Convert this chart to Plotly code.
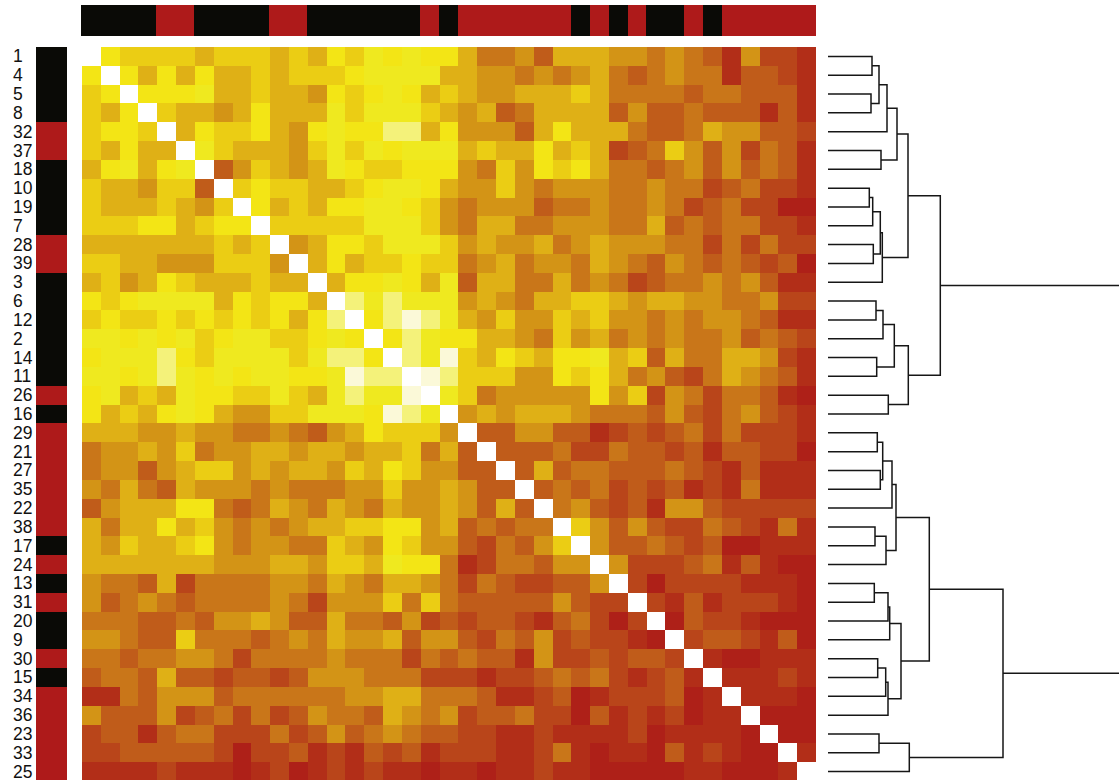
import plotly.graph_objects as go

row_ids = [1,4,5,8,32,37,18,10,19,7,28,39,3,6,12,2,14,11,26,16,
           29,21,27,35,22,38,17,24,13,31,20,9,30,15,34,36,23,33,25]

# Sample class, as shown by the side bars: 0 = black, 1 = red
sample_class = [1 if i > 20 else 0 for i in row_ids]

# Shade level of each cell above the diagonal (symmetric matrix), 0 = darkest red ... 11 = palest yellow
upper = [
 [8,7,7,7,7,6,7,7,7,6,7,6,8,7,9,8,9,8,8,6,4,4,5,3,6,6,6,5,5,4,5,4,3,1,5,2,2,1],
 [8,6,8,6,8,6,6,7,6,7,7,7,8,9,9,9,9,6,6,5,5,4,5,4,5,6,4,3,4,5,4,4,1,3,3,2,1],
 [8,8,8,9,6,6,7,6,6,5,8,7,8,9,8,6,7,6,5,5,6,6,6,7,6,4,4,4,4,3,4,4,3,3,3,1],
 [7,6,6,5,6,8,6,6,6,9,7,9,9,9,7,6,5,6,3,4,6,6,6,6,3,5,3,3,4,3,3,3,1,3,1],
 [6,8,7,7,8,6,5,8,9,8,8,10,10,6,8,5,5,5,3,6,8,6,6,6,4,3,3,4,6,5,5,3,3,2],
 [9,7,6,6,6,5,7,9,7,9,8,9,9,9,6,7,6,6,8,6,7,6,2,3,4,7,5,3,5,2,4,3,1],
 [3,5,7,6,5,6,9,8,7,7,8,8,8,5,4,7,5,8,7,8,6,4,4,3,4,5,3,5,3,4,3,1],
 [7,8,7,7,6,6,7,8,9,9,8,6,5,5,7,5,4,5,5,5,4,4,5,4,4,2,3,4,2,2,1],
 [8,6,7,6,8,8,9,9,8,7,5,4,5,5,5,3,4,4,5,4,4,5,4,2,3,4,2,2,0,0],
 [7,7,7,7,7,9,9,9,7,5,4,6,6,4,4,5,5,5,4,4,6,3,4,3,4,4,2,2,1],
 [5,6,8,8,7,9,9,9,7,5,6,5,5,6,4,5,6,5,5,5,4,4,2,4,2,4,2,2],
 [6,8,6,7,7,8,7,7,4,5,6,4,5,5,4,6,5,4,3,5,4,3,4,3,2,3,0],
 [6,8,8,9,8,6,9,3,6,6,4,4,6,4,5,4,2,3,4,4,5,4,5,3,1,1],
 [10,9,10,9,9,9,5,6,5,4,6,6,7,7,6,5,6,6,5,5,4,4,5,2,2],
 [8,10,11,10,9,6,5,7,5,5,7,6,7,5,5,4,5,4,5,5,4,3,1,1],
 [8,10,9,8,8,6,6,5,4,7,5,6,4,5,4,5,4,4,5,3,4,3,2],
 [10,9,11,7,6,8,7,6,8,8,9,6,7,3,6,4,4,6,6,5,2,1],
 [11,10,7,7,7,5,5,8,7,8,6,4,5,3,2,4,6,5,4,3,1],
 [9,7,4,5,5,5,5,5,8,5,7,2,5,4,2,4,4,3,1,0],
 [5,6,5,6,6,6,5,4,4,4,3,5,3,2,4,5,3,2,1],
 [3,3,5,5,3,3,1,2,3,2,3,4,2,4,2,2,2,1],
 [3,3,3,4,2,2,4,3,3,2,3,1,3,3,2,2,0],
 [3,6,3,4,4,3,3,3,4,3,2,1,3,1,1,1],
 [3,4,3,4,2,3,2,3,1,2,1,4,1,1,1],
 [4,5,3,2,3,1,5,5,3,2,2,2,2,2],
 [7,5,3,5,3,2,2,4,3,2,1,4,1],
 [5,3,3,4,3,2,3,0,0,1,1,1],
 [5,2,2,2,3,4,1,3,1,0,0],
 [2,0,2,2,2,2,1,1,1,0],
 [2,1,3,1,2,2,2,1,0],
 [0,3,2,2,1,0,0,0],
 [2,3,3,2,1,3,0],
 [1,0,0,1,1,1],
 [1,1,1,2,1],
 [1,1,1,0],
 [0,0,0],
 [0,0],
 [1],
 [],
]

shades = ["#ae2018","#b22e18","#b9451a","#c05c1a","#c97619","#d39416","#dfb016",
          "#ebcd14","#f3e515","#efe91f","#f4f27a","#fbf9d8","#ffffff"]
DIAGONAL = 12

# Dendrogram: node = (height, child, child); a child is a row position or another node
top_a = (69,
         (59, (51, (44, 0, 1), (43, 2, 3)), 4),
         (53, 5, 6))
top_b = (54.3,
         (52.3, (44.7, (41.3, 7, 8), 9), (45.3, 10, 11)),
         12)
top_c = (66.3,
         (55, (48, 13, 14), 15),
         (48.7, 16, 17))
top_d = (60.3, 18, 19)
cluster_top = (112.3, (80, top_a, top_b), (80.3, top_c, top_d))

bot_a = (68,
         (64, (54.7, (49.3, 20, 21), (52.3, 22, 23)), 24),
         (58, (47, 25, 26), 27))
bot_b = (73,
         (61.7, (60, (46.3, 28, 29), 30), 31),
         (60, (57.7, (49.7, 32, 33), 34), 35))
bot_c = (81.3, (51, 36, 37), 38)
cluster_bot = (175, (101.3, bot_a, bot_b), bot_c)
root = (300, cluster_top, cluster_bot)

W, H = 1119, 781
def px_x(a, b): return [a / W, b / W]
def px_y(top, bottom): return [1 - bottom / H, 1 - top / H]

n = len(row_ids)
matrix = [[DIAGONAL] * n for _ in range(n)]
for i, row in enumerate(upper):
    assert len(row) == n - 1 - i, (i, len(row))
    for k, v in enumerate(row):
        j = i + 1 + k
        matrix[i][j] = v
        matrix[j][i] = v

m = len(shades)
colorscale = []
for k, c in enumerate(shades):
    colorscale += [[k / m, c], [(k + 1) / m, c]]

class_scale = [[0, "#0a0a06"], [0.5, "#0a0a06"], [0.5, "#ae1a1a"], [1, "#ae1a1a"]]
pos = list(range(n))

xs, ys = [], []
def draw(node):
    if isinstance(node, int):
        return 0, node
    h, a, b = node
    ha, ya = draw(a)
    hb, yb = draw(b)
    xs.extend([ha, h, h, hb, None])
    ys.extend([ya, ya, yb, yb, None])
    return h, (ya + yb) / 2
draw(root)

fig = go.Figure()
fig.add_trace(go.Heatmap(z=matrix, x=pos, y=pos, colorscale=colorscale, zmin=-0.5, zmax=m - 0.5,
                         showscale=False, xaxis="x", yaxis="y", hoverinfo="skip"))
fig.add_trace(go.Heatmap(z=[[c] for c in sample_class], x=[0], y=pos, colorscale=class_scale,
                         zmin=0, zmax=1, showscale=False, xaxis="x2", yaxis="y2", hoverinfo="skip"))
fig.add_trace(go.Heatmap(z=[sample_class], x=pos, y=[0], colorscale=class_scale,
                         zmin=0, zmax=1, showscale=False, xaxis="x3", yaxis="y3", hoverinfo="skip"))
fig.add_trace(go.Scatter(x=xs, y=ys, mode="lines", line=dict(color="#161616", width=1.5),
                         showlegend=False, xaxis="x4", yaxis="y4", hoverinfo="skip"))

hidden = dict(visible=False, showgrid=False, zeroline=False, fixedrange=True)
yrange = [n - 0.5, -0.5]
xrange_ = [-0.5, n - 0.5]
fig.update_layout(
    width=W, height=H, margin=dict(l=0, r=0, t=0, b=0),
    paper_bgcolor="white", plot_bgcolor="white", showlegend=False,
    xaxis=dict(hidden, domain=px_x(82, 816), range=xrange_),
    yaxis=dict(hidden, domain=px_y(47, 781), range=yrange),
    xaxis2=dict(hidden, domain=px_x(36, 67), range=[-0.5, 0.5]),
    yaxis2=dict(hidden, domain=px_y(47, 781), range=yrange),
    xaxis3=dict(hidden, domain=px_x(81, 816), range=xrange_),
    yaxis3=dict(hidden, domain=px_y(5, 36), range=[-0.5, 0.5]),
    xaxis4=dict(hidden, domain=px_x(828, 1119), range=[0, 291]),
    yaxis4=dict(hidden, domain=px_y(47, 781), range=yrange),
    annotations=[dict(text=str(r), xref="paper", x=11 / W, xanchor="left", yref="y", y=i,
                      yanchor="middle", showarrow=False,
                      font=dict(family="Liberation Sans, Arial, sans-serif", size=17.5, color="#111111"))
                 for i, r in enumerate(row_ids)],
)

fig.write_html("out.html", config=dict(displayModeBar=False),
               post_script="document.body.style.margin='0';document.body.style.overflow='hidden';")
